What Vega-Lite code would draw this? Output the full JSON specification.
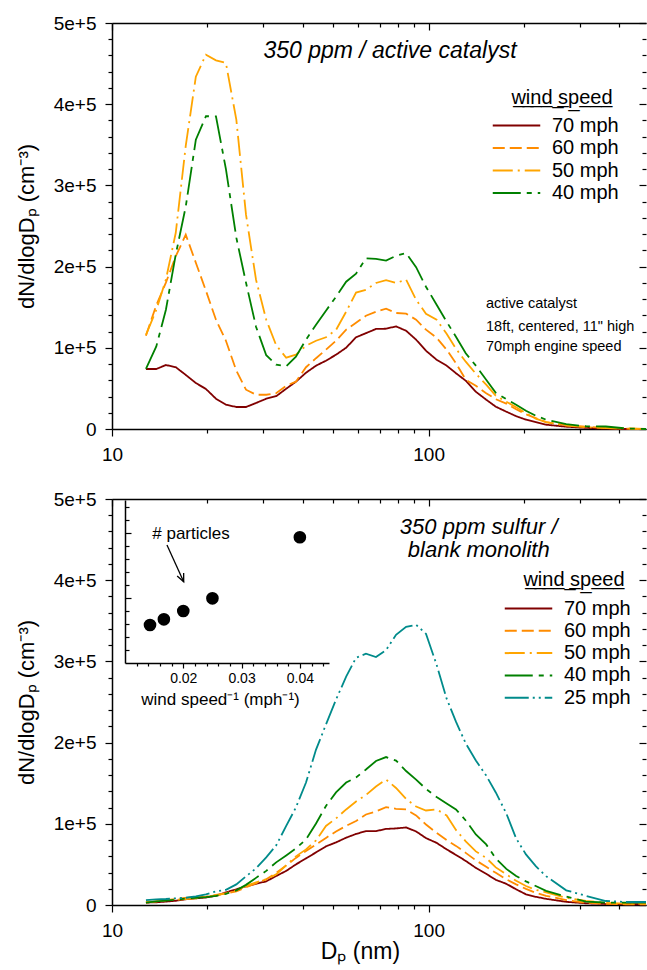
{
  "$schema": "https://vega.github.io/schema/vega-lite/v6.json",
  "padding": {"left": 15, "top": 14, "right": 0, "bottom": 5},
  "config": {
    "font": "Liberation Sans",
    "view": {"stroke": null},
    "axis": {"domainColor": "black", "domainWidth": 1.5, "tickColor": "black", "tickWidth": 1.2, "labelColor": "black", "titleColor": "black", "grid": false, "titleFontWeight": "normal", "labelFlush": false, "labelOverlap": false},
    "text": {"color": "black"}
  },
  "bounds": "flush",
  "spacing": 70,
  "resolve": {"scale": {"color": "independent", "strokeDash": "independent"}},
  "datasets": {
    "top": [
      {"Dp":12.8,"N":73900,"speed":"70 mph"},{"Dp":13.8,"N":73900,"speed":"70 mph"},{"Dp":14.8,"N":78800,"speed":"70 mph"},{"Dp":15.9,"N":76100,"speed":"70 mph"},{"Dp":17.1,"N":66600,"speed":"70 mph"},{"Dp":18.4,"N":56600,"speed":"70 mph"},{"Dp":19.8,"N":49300,"speed":"70 mph"},{"Dp":21.3,"N":37300,"speed":"70 mph"},{"Dp":22.9,"N":29900,"speed":"70 mph"},{"Dp":24.7,"N":27100,"speed":"70 mph"},{"Dp":26.5,"N":27100,"speed":"70 mph"},{"Dp":28.5,"N":32000,"speed":"70 mph"},{"Dp":30.7,"N":37300,"speed":"70 mph"},{"Dp":33.0,"N":40400,"speed":"70 mph"},{"Dp":35.5,"N":49600,"speed":"70 mph"},{"Dp":38.1,"N":58300,"speed":"70 mph"},{"Dp":41.0,"N":69300,"speed":"70 mph"},{"Dp":44.1,"N":78000,"speed":"70 mph"},{"Dp":47.4,"N":84100,"speed":"70 mph"},{"Dp":51.0,"N":91500,"speed":"70 mph"},{"Dp":54.9,"N":100100,"speed":"70 mph"},{"Dp":59.0,"N":113000,"speed":"70 mph"},{"Dp":63.4,"N":118000,"speed":"70 mph"},{"Dp":68.2,"N":123200,"speed":"70 mph"},{"Dp":73.4,"N":123500,"speed":"70 mph"},{"Dp":78.9,"N":126400,"speed":"70 mph"},{"Dp":84.9,"N":121000,"speed":"70 mph"},{"Dp":91.3,"N":110000,"speed":"70 mph"},{"Dp":98.1,"N":96400,"speed":"70 mph"},{"Dp":106,"N":85300,"speed":"70 mph"},{"Dp":114,"N":78000,"speed":"70 mph"},{"Dp":122,"N":68700,"speed":"70 mph"},{"Dp":131,"N":59500,"speed":"70 mph"},{"Dp":141,"N":45900,"speed":"70 mph"},{"Dp":152,"N":36100,"speed":"70 mph"},{"Dp":163,"N":27500,"speed":"70 mph"},{"Dp":176,"N":21300,"speed":"70 mph"},{"Dp":189,"N":15800,"speed":"70 mph"},{"Dp":203,"N":11500,"speed":"70 mph"},{"Dp":218,"N":8400,"speed":"70 mph"},{"Dp":235,"N":5300,"speed":"70 mph"},{"Dp":272,"N":2800,"speed":"70 mph"},{"Dp":314,"N":1400,"speed":"70 mph"},{"Dp":363,"N":400,"speed":"70 mph"},{"Dp":420,"N":0,"speed":"70 mph"},{"Dp":486,"N":0,"speed":"70 mph"},
      {"Dp":12.8,"N":114900,"speed":"60 mph"},{"Dp":13.8,"N":152500,"speed":"60 mph"},{"Dp":14.8,"N":180200,"speed":"60 mph"},{"Dp":15.9,"N":212800,"speed":"60 mph"},{"Dp":17.1,"N":239300,"speed":"60 mph"},{"Dp":18.4,"N":204800,"speed":"60 mph"},{"Dp":19.8,"N":170300,"speed":"60 mph"},{"Dp":21.3,"N":134600,"speed":"60 mph"},{"Dp":22.9,"N":108700,"speed":"60 mph"},{"Dp":24.7,"N":71800,"speed":"60 mph"},{"Dp":26.5,"N":48400,"speed":"60 mph"},{"Dp":28.5,"N":42200,"speed":"60 mph"},{"Dp":30.7,"N":42200,"speed":"60 mph"},{"Dp":33.0,"N":44100,"speed":"60 mph"},{"Dp":35.5,"N":53300,"speed":"60 mph"},{"Dp":38.1,"N":58300,"speed":"60 mph"},{"Dp":41.0,"N":76100,"speed":"60 mph"},{"Dp":44.1,"N":87200,"speed":"60 mph"},{"Dp":47.4,"N":97700,"speed":"60 mph"},{"Dp":51.0,"N":108700,"speed":"60 mph"},{"Dp":54.9,"N":122300,"speed":"60 mph"},{"Dp":59.0,"N":130900,"speed":"60 mph"},{"Dp":63.4,"N":139500,"speed":"60 mph"},{"Dp":68.2,"N":144400,"speed":"60 mph"},{"Dp":73.4,"N":148100,"speed":"60 mph"},{"Dp":78.9,"N":142900,"speed":"60 mph"},{"Dp":84.9,"N":142000,"speed":"60 mph"},{"Dp":91.3,"N":134600,"speed":"60 mph"},{"Dp":98.1,"N":122300,"speed":"60 mph"},{"Dp":106,"N":112400,"speed":"60 mph"},{"Dp":114,"N":97700,"speed":"60 mph"},{"Dp":122,"N":81000,"speed":"60 mph"},{"Dp":131,"N":60700,"speed":"60 mph"},{"Dp":141,"N":53300,"speed":"60 mph"},{"Dp":152,"N":44100,"speed":"60 mph"},{"Dp":163,"N":36700,"speed":"60 mph"},{"Dp":176,"N":31200,"speed":"60 mph"},{"Dp":189,"N":24400,"speed":"60 mph"},{"Dp":203,"N":18200,"speed":"60 mph"},{"Dp":218,"N":13300,"speed":"60 mph"},{"Dp":235,"N":8400,"speed":"60 mph"},{"Dp":272,"N":4700,"speed":"60 mph"},{"Dp":314,"N":2800,"speed":"60 mph"},{"Dp":363,"N":1200,"speed":"60 mph"},{"Dp":420,"N":400,"speed":"60 mph"},{"Dp":486,"N":0,"speed":"60 mph"},
      {"Dp":12.8,"N":116000,"speed":"50 mph"},{"Dp":13.8,"N":146700,"speed":"50 mph"},{"Dp":14.8,"N":184000,"speed":"50 mph"},{"Dp":15.9,"N":241700,"speed":"50 mph"},{"Dp":17.1,"N":348900,"speed":"50 mph"},{"Dp":18.4,"N":433900,"speed":"50 mph"},{"Dp":19.8,"N":461000,"speed":"50 mph"},{"Dp":21.3,"N":454000,"speed":"50 mph"},{"Dp":22.9,"N":450700,"speed":"50 mph"},{"Dp":24.7,"N":380900,"speed":"50 mph"},{"Dp":26.5,"N":264000,"speed":"50 mph"},{"Dp":28.5,"N":183900,"speed":"50 mph"},{"Dp":30.7,"N":134600,"speed":"50 mph"},{"Dp":33.0,"N":103200,"speed":"50 mph"},{"Dp":35.5,"N":87800,"speed":"50 mph"},{"Dp":38.1,"N":91500,"speed":"50 mph"},{"Dp":41.0,"N":102600,"speed":"50 mph"},{"Dp":44.1,"N":108700,"speed":"50 mph"},{"Dp":47.4,"N":113000,"speed":"50 mph"},{"Dp":51.0,"N":122000,"speed":"50 mph"},{"Dp":54.9,"N":144500,"speed":"50 mph"},{"Dp":59.0,"N":168000,"speed":"50 mph"},{"Dp":63.4,"N":171500,"speed":"50 mph"},{"Dp":68.2,"N":179800,"speed":"50 mph"},{"Dp":73.4,"N":183300,"speed":"50 mph"},{"Dp":78.9,"N":179800,"speed":"50 mph"},{"Dp":84.9,"N":183900,"speed":"50 mph"},{"Dp":91.3,"N":159200,"speed":"50 mph"},{"Dp":98.1,"N":142000,"speed":"50 mph"},{"Dp":106,"N":134600,"speed":"50 mph"},{"Dp":114,"N":117400,"speed":"50 mph"},{"Dp":122,"N":98900,"speed":"50 mph"},{"Dp":131,"N":82900,"speed":"50 mph"},{"Dp":141,"N":68100,"speed":"50 mph"},{"Dp":152,"N":54600,"speed":"50 mph"},{"Dp":163,"N":41000,"speed":"50 mph"},{"Dp":176,"N":33600,"speed":"50 mph"},{"Dp":189,"N":26800,"speed":"50 mph"},{"Dp":203,"N":19500,"speed":"50 mph"},{"Dp":218,"N":12700,"speed":"50 mph"},{"Dp":235,"N":8400,"speed":"50 mph"},{"Dp":272,"N":4100,"speed":"50 mph"},{"Dp":314,"N":2200,"speed":"50 mph"},{"Dp":363,"N":1200,"speed":"50 mph"},{"Dp":420,"N":700,"speed":"50 mph"},{"Dp":486,"N":0,"speed":"50 mph"},
      {"Dp":12.8,"N":73900,"speed":"40 mph"},{"Dp":13.8,"N":101700,"speed":"40 mph"},{"Dp":14.8,"N":146900,"speed":"40 mph"},{"Dp":15.9,"N":215000,"speed":"40 mph"},{"Dp":17.1,"N":274000,"speed":"40 mph"},{"Dp":18.4,"N":356300,"speed":"40 mph"},{"Dp":19.8,"N":385200,"speed":"40 mph"},{"Dp":21.3,"N":385000,"speed":"40 mph"},{"Dp":22.9,"N":320000,"speed":"40 mph"},{"Dp":24.7,"N":235600,"speed":"40 mph"},{"Dp":26.5,"N":180200,"speed":"40 mph"},{"Dp":28.5,"N":126000,"speed":"40 mph"},{"Dp":30.7,"N":90900,"speed":"40 mph"},{"Dp":33.0,"N":79200,"speed":"40 mph"},{"Dp":35.5,"N":77300,"speed":"40 mph"},{"Dp":38.1,"N":89000,"speed":"40 mph"},{"Dp":41.0,"N":110000,"speed":"40 mph"},{"Dp":44.1,"N":128400,"speed":"40 mph"},{"Dp":47.4,"N":145700,"speed":"40 mph"},{"Dp":51.0,"N":162900,"speed":"40 mph"},{"Dp":54.9,"N":181400,"speed":"40 mph"},{"Dp":59.0,"N":191300,"speed":"40 mph"},{"Dp":63.4,"N":210200,"speed":"40 mph"},{"Dp":68.2,"N":209400,"speed":"40 mph"},{"Dp":73.4,"N":207300,"speed":"40 mph"},{"Dp":78.9,"N":213400,"speed":"40 mph"},{"Dp":84.9,"N":216500,"speed":"40 mph"},{"Dp":91.3,"N":199300,"speed":"40 mph"},{"Dp":98.1,"N":175200,"speed":"40 mph"},{"Dp":106,"N":153100,"speed":"40 mph"},{"Dp":114,"N":132100,"speed":"40 mph"},{"Dp":122,"N":113700,"speed":"40 mph"},{"Dp":131,"N":93300,"speed":"40 mph"},{"Dp":141,"N":78000,"speed":"40 mph"},{"Dp":152,"N":60700,"speed":"40 mph"},{"Dp":163,"N":44700,"speed":"40 mph"},{"Dp":176,"N":36700,"speed":"40 mph"},{"Dp":189,"N":29900,"speed":"40 mph"},{"Dp":203,"N":22500,"speed":"40 mph"},{"Dp":218,"N":16400,"speed":"40 mph"},{"Dp":235,"N":11500,"speed":"40 mph"},{"Dp":272,"N":5900,"speed":"40 mph"},{"Dp":314,"N":3400,"speed":"40 mph"},{"Dp":363,"N":3100,"speed":"40 mph"},{"Dp":420,"N":700,"speed":"40 mph"},{"Dp":486,"N":0,"speed":"40 mph"}
    ],
    "bot": [
      {"Dp":12.8,"N":3000,"speed":"70 mph"},{"Dp":13.8,"N":3300,"speed":"70 mph"},{"Dp":14.8,"N":4200,"speed":"70 mph"},{"Dp":15.9,"N":5200,"speed":"70 mph"},{"Dp":17.1,"N":7000,"speed":"70 mph"},{"Dp":18.4,"N":8200,"speed":"70 mph"},{"Dp":19.8,"N":9200,"speed":"70 mph"},{"Dp":21.3,"N":11300,"speed":"70 mph"},{"Dp":22.9,"N":15600,"speed":"70 mph"},{"Dp":24.7,"N":19300,"speed":"70 mph"},{"Dp":26.5,"N":23000,"speed":"70 mph"},{"Dp":28.5,"N":26100,"speed":"70 mph"},{"Dp":30.7,"N":29100,"speed":"70 mph"},{"Dp":33.0,"N":35700,"speed":"70 mph"},{"Dp":35.5,"N":42000,"speed":"70 mph"},{"Dp":38.1,"N":50000,"speed":"70 mph"},{"Dp":41.0,"N":57400,"speed":"70 mph"},{"Dp":44.1,"N":64800,"speed":"70 mph"},{"Dp":47.4,"N":72200,"speed":"70 mph"},{"Dp":51.0,"N":77100,"speed":"70 mph"},{"Dp":54.9,"N":82900,"speed":"70 mph"},{"Dp":59.0,"N":87500,"speed":"70 mph"},{"Dp":63.4,"N":91000,"speed":"70 mph"},{"Dp":68.2,"N":91000,"speed":"70 mph"},{"Dp":73.4,"N":93700,"speed":"70 mph"},{"Dp":78.9,"N":94300,"speed":"70 mph"},{"Dp":84.9,"N":95500,"speed":"70 mph"},{"Dp":91.3,"N":90600,"speed":"70 mph"},{"Dp":98.1,"N":82400,"speed":"70 mph"},{"Dp":106,"N":76500,"speed":"70 mph"},{"Dp":114,"N":68500,"speed":"70 mph"},{"Dp":122,"N":61700,"speed":"70 mph"},{"Dp":131,"N":54300,"speed":"70 mph"},{"Dp":141,"N":45700,"speed":"70 mph"},{"Dp":152,"N":38400,"speed":"70 mph"},{"Dp":163,"N":31000,"speed":"70 mph"},{"Dp":176,"N":26100,"speed":"70 mph"},{"Dp":189,"N":19300,"speed":"70 mph"},{"Dp":203,"N":13200,"speed":"70 mph"},{"Dp":218,"N":10100,"speed":"70 mph"},{"Dp":235,"N":7600,"speed":"70 mph"},{"Dp":272,"N":3900,"speed":"70 mph"},{"Dp":314,"N":2100,"speed":"70 mph"},{"Dp":363,"N":1200,"speed":"70 mph"},{"Dp":420,"N":900,"speed":"70 mph"},{"Dp":486,"N":900,"speed":"70 mph"},
      {"Dp":12.8,"N":3000,"speed":"60 mph"},{"Dp":13.8,"N":4500,"speed":"60 mph"},{"Dp":14.8,"N":6000,"speed":"60 mph"},{"Dp":15.9,"N":7400,"speed":"60 mph"},{"Dp":17.1,"N":8900,"speed":"60 mph"},{"Dp":18.4,"N":9500,"speed":"60 mph"},{"Dp":19.8,"N":10300,"speed":"60 mph"},{"Dp":21.3,"N":12500,"speed":"60 mph"},{"Dp":22.9,"N":14400,"speed":"60 mph"},{"Dp":24.7,"N":16800,"speed":"60 mph"},{"Dp":26.5,"N":21800,"speed":"60 mph"},{"Dp":28.5,"N":26700,"speed":"60 mph"},{"Dp":30.7,"N":31600,"speed":"60 mph"},{"Dp":33.0,"N":39600,"speed":"60 mph"},{"Dp":35.5,"N":48800,"speed":"60 mph"},{"Dp":38.1,"N":58000,"speed":"60 mph"},{"Dp":41.0,"N":66600,"speed":"60 mph"},{"Dp":44.1,"N":74600,"speed":"60 mph"},{"Dp":47.4,"N":82600,"speed":"60 mph"},{"Dp":51.0,"N":90600,"speed":"60 mph"},{"Dp":54.9,"N":97400,"speed":"60 mph"},{"Dp":59.0,"N":103500,"speed":"60 mph"},{"Dp":63.4,"N":111500,"speed":"60 mph"},{"Dp":68.2,"N":115200,"speed":"60 mph"},{"Dp":73.4,"N":120400,"speed":"60 mph"},{"Dp":78.9,"N":118500,"speed":"60 mph"},{"Dp":84.9,"N":117700,"speed":"60 mph"},{"Dp":91.3,"N":110300,"speed":"60 mph"},{"Dp":98.1,"N":99200,"speed":"60 mph"},{"Dp":106,"N":88800,"speed":"60 mph"},{"Dp":114,"N":79900,"speed":"60 mph"},{"Dp":122,"N":72800,"speed":"60 mph"},{"Dp":131,"N":64200,"speed":"60 mph"},{"Dp":141,"N":55000,"speed":"60 mph"},{"Dp":152,"N":47000,"speed":"60 mph"},{"Dp":163,"N":39600,"speed":"60 mph"},{"Dp":176,"N":31600,"speed":"60 mph"},{"Dp":189,"N":25400,"speed":"60 mph"},{"Dp":203,"N":19900,"speed":"60 mph"},{"Dp":218,"N":15000,"speed":"60 mph"},{"Dp":235,"N":11300,"speed":"60 mph"},{"Dp":272,"N":6100,"speed":"60 mph"},{"Dp":314,"N":2700,"speed":"60 mph"},{"Dp":363,"N":1500,"speed":"60 mph"},{"Dp":420,"N":900,"speed":"60 mph"},{"Dp":486,"N":900,"speed":"60 mph"},
      {"Dp":12.8,"N":3900,"speed":"50 mph"},{"Dp":13.8,"N":4500,"speed":"50 mph"},{"Dp":14.8,"N":5800,"speed":"50 mph"},{"Dp":15.9,"N":6400,"speed":"50 mph"},{"Dp":17.1,"N":7300,"speed":"50 mph"},{"Dp":18.4,"N":8200,"speed":"50 mph"},{"Dp":19.8,"N":10100,"speed":"50 mph"},{"Dp":21.3,"N":11900,"speed":"50 mph"},{"Dp":22.9,"N":14400,"speed":"50 mph"},{"Dp":24.7,"N":18100,"speed":"50 mph"},{"Dp":26.5,"N":23600,"speed":"50 mph"},{"Dp":28.5,"N":27900,"speed":"50 mph"},{"Dp":30.7,"N":31600,"speed":"50 mph"},{"Dp":33.0,"N":37700,"speed":"50 mph"},{"Dp":35.5,"N":48800,"speed":"50 mph"},{"Dp":38.1,"N":59900,"speed":"50 mph"},{"Dp":41.0,"N":68500,"speed":"50 mph"},{"Dp":44.1,"N":79500,"speed":"50 mph"},{"Dp":47.4,"N":97400,"speed":"50 mph"},{"Dp":51.0,"N":106600,"speed":"50 mph"},{"Dp":54.9,"N":117700,"speed":"50 mph"},{"Dp":59.0,"N":127500,"speed":"50 mph"},{"Dp":63.4,"N":135500,"speed":"50 mph"},{"Dp":68.2,"N":145900,"speed":"50 mph"},{"Dp":73.4,"N":154500,"speed":"50 mph"},{"Dp":78.9,"N":144100,"speed":"50 mph"},{"Dp":84.9,"N":130600,"speed":"50 mph"},{"Dp":91.3,"N":121300,"speed":"50 mph"},{"Dp":98.1,"N":116400,"speed":"50 mph"},{"Dp":106,"N":117700,"speed":"50 mph"},{"Dp":114,"N":110300,"speed":"50 mph"},{"Dp":122,"N":92500,"speed":"50 mph"},{"Dp":131,"N":78300,"speed":"50 mph"},{"Dp":141,"N":66000,"speed":"50 mph"},{"Dp":152,"N":58000,"speed":"50 mph"},{"Dp":163,"N":46300,"speed":"50 mph"},{"Dp":176,"N":37700,"speed":"50 mph"},{"Dp":189,"N":29800,"speed":"50 mph"},{"Dp":203,"N":23400,"speed":"50 mph"},{"Dp":218,"N":18700,"speed":"50 mph"},{"Dp":235,"N":15600,"speed":"50 mph"},{"Dp":272,"N":8900,"speed":"50 mph"},{"Dp":314,"N":5200,"speed":"50 mph"},{"Dp":363,"N":2700,"speed":"50 mph"},{"Dp":420,"N":1700,"speed":"50 mph"},{"Dp":486,"N":1500,"speed":"50 mph"},
      {"Dp":12.8,"N":3000,"speed":"40 mph"},{"Dp":13.8,"N":4500,"speed":"40 mph"},{"Dp":14.8,"N":5400,"speed":"40 mph"},{"Dp":15.9,"N":6400,"speed":"40 mph"},{"Dp":17.1,"N":7900,"speed":"40 mph"},{"Dp":18.4,"N":8900,"speed":"40 mph"},{"Dp":19.8,"N":9800,"speed":"40 mph"},{"Dp":21.3,"N":11300,"speed":"40 mph"},{"Dp":22.9,"N":13800,"speed":"40 mph"},{"Dp":24.7,"N":18100,"speed":"40 mph"},{"Dp":26.5,"N":24800,"speed":"40 mph"},{"Dp":28.5,"N":33400,"speed":"40 mph"},{"Dp":30.7,"N":42000,"speed":"40 mph"},{"Dp":33.0,"N":52500,"speed":"40 mph"},{"Dp":35.5,"N":61100,"speed":"40 mph"},{"Dp":38.1,"N":69700,"speed":"40 mph"},{"Dp":41.0,"N":80800,"speed":"40 mph"},{"Dp":44.1,"N":100400,"speed":"40 mph"},{"Dp":47.4,"N":122000,"speed":"40 mph"},{"Dp":51.0,"N":138600,"speed":"40 mph"},{"Dp":54.9,"N":150800,"speed":"40 mph"},{"Dp":59.0,"N":157000,"speed":"40 mph"},{"Dp":63.4,"N":166800,"speed":"40 mph"},{"Dp":68.2,"N":177300,"speed":"40 mph"},{"Dp":73.4,"N":182200,"speed":"40 mph"},{"Dp":78.9,"N":177900,"speed":"40 mph"},{"Dp":84.9,"N":165000,"speed":"40 mph"},{"Dp":91.3,"N":154500,"speed":"40 mph"},{"Dp":98.1,"N":142900,"speed":"40 mph"},{"Dp":106,"N":133000,"speed":"40 mph"},{"Dp":114,"N":125000,"speed":"40 mph"},{"Dp":122,"N":117700,"speed":"40 mph"},{"Dp":131,"N":104100,"speed":"40 mph"},{"Dp":141,"N":86900,"speed":"40 mph"},{"Dp":152,"N":74600,"speed":"40 mph"},{"Dp":163,"N":57400,"speed":"40 mph"},{"Dp":176,"N":44500,"speed":"40 mph"},{"Dp":189,"N":35700,"speed":"40 mph"},{"Dp":203,"N":29100,"speed":"40 mph"},{"Dp":218,"N":23400,"speed":"40 mph"},{"Dp":235,"N":17500,"speed":"40 mph"},{"Dp":272,"N":10300,"speed":"40 mph"},{"Dp":314,"N":4200,"speed":"40 mph"},{"Dp":363,"N":3000,"speed":"40 mph"},{"Dp":420,"N":3000,"speed":"40 mph"},{"Dp":486,"N":3000,"speed":"40 mph"},
      {"Dp":12.8,"N":6100,"speed":"25 mph"},{"Dp":13.8,"N":7000,"speed":"25 mph"},{"Dp":14.8,"N":7400,"speed":"25 mph"},{"Dp":15.9,"N":8200,"speed":"25 mph"},{"Dp":17.1,"N":8900,"speed":"25 mph"},{"Dp":18.4,"N":10700,"speed":"25 mph"},{"Dp":19.8,"N":13200,"speed":"25 mph"},{"Dp":21.3,"N":16800,"speed":"25 mph"},{"Dp":22.9,"N":18700,"speed":"25 mph"},{"Dp":24.7,"N":25400,"speed":"25 mph"},{"Dp":26.5,"N":35300,"speed":"25 mph"},{"Dp":28.5,"N":45100,"speed":"25 mph"},{"Dp":30.7,"N":58600,"speed":"25 mph"},{"Dp":33.0,"N":73400,"speed":"25 mph"},{"Dp":35.5,"N":97400,"speed":"25 mph"},{"Dp":38.1,"N":120100,"speed":"25 mph"},{"Dp":41.0,"N":150800,"speed":"25 mph"},{"Dp":44.1,"N":191400,"speed":"25 mph"},{"Dp":47.4,"N":222200,"speed":"25 mph"},{"Dp":51.0,"N":252900,"speed":"25 mph"},{"Dp":54.9,"N":281200,"speed":"25 mph"},{"Dp":59.0,"N":304500,"speed":"25 mph"},{"Dp":63.4,"N":309400,"speed":"25 mph"},{"Dp":68.2,"N":305400,"speed":"25 mph"},{"Dp":73.4,"N":314000,"speed":"25 mph"},{"Dp":78.9,"N":332800,"speed":"25 mph"},{"Dp":84.9,"N":342600,"speed":"25 mph"},{"Dp":91.3,"N":345100,"speed":"25 mph"},{"Dp":98.1,"N":334000,"speed":"25 mph"},{"Dp":106,"N":295900,"speed":"25 mph"},{"Dp":114,"N":254100,"speed":"25 mph"},{"Dp":122,"N":225800,"speed":"25 mph"},{"Dp":131,"N":199000,"speed":"25 mph"},{"Dp":141,"N":178000,"speed":"25 mph"},{"Dp":152,"N":159500,"speed":"25 mph"},{"Dp":163,"N":138600,"speed":"25 mph"},{"Dp":176,"N":112700,"speed":"25 mph"},{"Dp":189,"N":82000,"speed":"25 mph"},{"Dp":203,"N":62300,"speed":"25 mph"},{"Dp":218,"N":47800,"speed":"25 mph"},{"Dp":235,"N":35500,"speed":"25 mph"},{"Dp":272,"N":18100,"speed":"25 mph"},{"Dp":314,"N":11300,"speed":"25 mph"},{"Dp":363,"N":4900,"speed":"25 mph"},{"Dp":420,"N":3700,"speed":"25 mph"},{"Dp":486,"N":3700,"speed":"25 mph"}
    ],
    "inset": [
      {"inv": 0.01429, "total": 0.583},
      {"inv": 0.01667, "total": 0.67},
      {"inv": 0.02, "total": 0.798},
      {"inv": 0.025, "total": 0.992},
      {"inv": 0.04, "total": 1.928}
    ]
  },
  "vconcat": [
    {
      "width": 534,
      "height": 406,
      "resolve": {"scale": {"x": "independent", "y": "independent"}},
      "layer": [
        {
          "data": {"name": "top"},
          "mark": {"type": "line", "strokeWidth": 1.8},
          "encoding": {
            "x": {"field": "Dp", "type": "quantitative", "scale": {"type": "log", "domain": [10, 486], "nice": false},
              "axis": {"orient": "bottom", "title": null, "values": [10,20,30,40,50,60,70,80,90,100,200,300,400], "labelExpr": "datum.value == 10 || datum.value == 100 ? '' + datum.value : ''", "tickSize": {"condition": {"test": "datum.value == 10 || datum.value == 100", "value": 7}, "value": 4}, "labelFontSize": 19, "labelPadding": 9}},
            "y": {"field": "N", "type": "quantitative", "scale": {"domain": [0, 500000], "nice": false},
              "axis": {"orient": "left", "title": "dN/dlogD\u209a (cm\u207b\u00b3)", "titleFontSize": 22, "titlePadding": 15, "values": [0,20000,40000,60000,80000,100000,120000,140000,160000,180000,200000,220000,240000,260000,280000,300000,320000,340000,360000,380000,400000,420000,440000,460000,480000,500000], "labelExpr": "datum.value % 100000 == 0 ? (datum.value == 0 ? '0' : (datum.value / 100000) + 'e+5') : ''", "tickSize": {"condition": {"test": "datum.value % 100000 == 0", "value": 7}, "value": 4}, "labelFontSize": 19, "labelPadding": 9}},
            "color": {"field": "speed", "type": "nominal", "scale": {"domain": ["70 mph","60 mph","50 mph","40 mph"], "range": ["#800000","#FF8C00","#FFA500","#008000"]},
              "legend": {"title": "w\u0332i\u0332n\u0332d\u0332 \u0332s\u0332p\u0332e\u0332e\u0332d\u0332", "orient": "none", "legendX": 394, "legendY": 65, "titleFontSize": 20, "titleFontWeight": "normal", "titleAnchor": "middle", "titlePadding": 7, "labelFontSize": 20, "symbolType": "M-2.5,0H2.5", "symbolSize": 361, "symbolStrokeWidth": 2, "rowPadding": 1.5, "labelOffset": 25, "padding": 0}},
            "strokeDash": {"field": "speed", "type": "nominal", "scale": {"domain": ["70 mph","60 mph","50 mph","40 mph"], "range": [[1,0],[12,5],[20,5,2,5],[28,6,5,6]]},
              "legend": {"title": "w\u0332i\u0332n\u0332d\u0332 \u0332s\u0332p\u0332e\u0332e\u0332d\u0332", "orient": "none", "legendX": 394, "legendY": 65, "titleFontSize": 20, "titleFontWeight": "normal", "titleAnchor": "middle", "titlePadding": 7, "labelFontSize": 20, "symbolType": "M-2.5,0H2.5", "symbolSize": 361, "symbolStrokeWidth": 2, "rowPadding": 1.5, "labelOffset": 25, "padding": 0}}
          }
        },
        {
          "data": {"name": "top"},
          "mark": {"type": "point", "opacity": 0},
          "encoding": {
            "x": {"field": "Dp", "type": "quantitative", "scale": {"type": "log", "domain": [10, 486], "nice": false},
              "axis": {"orient": "top", "title": null, "labels": false, "values": [10,20,30,40,50,60,70,80,90,100,200,300,400], "tickSize": {"condition": {"test": "datum.value == 10 || datum.value == 100", "value": -7}, "value": -4}}},
            "y": {"field": "N", "type": "quantitative", "scale": {"domain": [0, 500000], "nice": false},
              "axis": {"orient": "right", "title": null, "labels": false, "domain": false, "values": [0,20000,40000,60000,80000,100000,120000,140000,160000,180000,200000,220000,240000,260000,280000,300000,320000,340000,360000,380000,400000,420000,440000,460000,480000,500000], "tickSize": {"condition": {"test": "datum.value % 100000 == 0", "value": -7}, "value": -4}}}
          }
        },
        {
          "data": {"values": [{"Dp": 75.5, "N": 465000, "label": "350 ppm / active catalyst"}]},
          "mark": {"type": "text", "fontSize": 23, "fontStyle": "italic", "align": "center", "baseline": "middle"},
          "encoding": {
            "x": {"field": "Dp", "type": "quantitative", "scale": {"type": "log", "domain": [10, 486], "nice": false}, "axis": null},
            "y": {"field": "N", "type": "quantitative", "scale": {"domain": [0, 500000], "nice": false}, "axis": null},
            "text": {"field": "label"}
          }
        },
        {
          "data": {"values": [{"Dp": 151.8, "N": 154300, "label": "active catalyst"}, {"Dp": 151.8, "N": 126000, "label": "18ft, centered, 11\" high"}, {"Dp": 151.8, "N": 101400, "label": "70mph engine speed"}]},
          "mark": {"type": "text", "fontSize": 14.5, "align": "left", "baseline": "middle"},
          "encoding": {
            "x": {"field": "Dp", "type": "quantitative", "scale": {"type": "log", "domain": [10, 486], "nice": false}, "axis": null},
            "y": {"field": "N", "type": "quantitative", "scale": {"domain": [0, 500000], "nice": false}, "axis": null},
            "text": {"field": "label"}
          }
        }
      ]
    },
    {
      "width": 534,
      "height": 406,
      "resolve": {"scale": {"x": "independent", "y": "independent"}},
      "layer": [
        {
          "data": {"name": "bot"},
          "mark": {"type": "line", "strokeWidth": 1.8},
          "encoding": {
            "x": {"field": "Dp", "type": "quantitative", "scale": {"type": "log", "domain": [10, 486], "nice": false},
              "axis": {"orient": "bottom", "title": "D\u209a (nm)", "titleFontSize": 23, "titlePadding": 0, "titleX": 248, "values": [10,20,30,40,50,60,70,80,90,100,200,300,400], "labelExpr": "datum.value == 10 || datum.value == 100 ? '' + datum.value : ''", "tickSize": {"condition": {"test": "datum.value == 10 || datum.value == 100", "value": 7}, "value": 4}, "labelFontSize": 19, "labelPadding": 9}},
            "y": {"field": "N", "type": "quantitative", "scale": {"domain": [0, 500000], "nice": false},
              "axis": {"orient": "left", "title": "dN/dlogD\u209a (cm\u207b\u00b3)", "titleFontSize": 22, "titlePadding": 15, "values": [0,20000,40000,60000,80000,100000,120000,140000,160000,180000,200000,220000,240000,260000,280000,300000,320000,340000,360000,380000,400000,420000,440000,460000,480000,500000], "labelExpr": "datum.value % 100000 == 0 ? (datum.value == 0 ? '0' : (datum.value / 100000) + 'e+5') : ''", "tickSize": {"condition": {"test": "datum.value % 100000 == 0", "value": 7}, "value": 4}, "labelFontSize": 19, "labelPadding": 9}},
            "color": {"field": "speed", "type": "nominal", "scale": {"domain": ["70 mph","60 mph","50 mph","40 mph","25 mph"], "range": ["#800000","#FF8C00","#FFA500","#008000","#008B8B"]},
              "legend": {"title": "w\u0332i\u0332n\u0332d\u0332 \u0332s\u0332p\u0332e\u0332e\u0332d\u0332", "orient": "none", "legendX": 406, "legendY": 71, "titleFontSize": 20, "titleFontWeight": "normal", "titleAnchor": "middle", "titlePadding": 8, "labelFontSize": 20, "symbolType": "M-2.5,0H2.5", "symbolSize": 361, "symbolStrokeWidth": 2, "rowPadding": 1.3, "labelOffset": 25, "padding": 0}},
            "strokeDash": {"field": "speed", "type": "nominal", "scale": {"domain": ["70 mph","60 mph","50 mph","40 mph","25 mph"], "range": [[1,0],[12,5],[20,5,2,5],[28,6,5,6],[24,4,2,4,2,4]]},
              "legend": {"title": "w\u0332i\u0332n\u0332d\u0332 \u0332s\u0332p\u0332e\u0332e\u0332d\u0332", "orient": "none", "legendX": 406, "legendY": 71, "titleFontSize": 20, "titleFontWeight": "normal", "titleAnchor": "middle", "titlePadding": 8, "labelFontSize": 20, "symbolType": "M-2.5,0H2.5", "symbolSize": 361, "symbolStrokeWidth": 2, "rowPadding": 1.3, "labelOffset": 25, "padding": 0}}
          }
        },
        {
          "data": {"name": "bot"},
          "mark": {"type": "point", "opacity": 0},
          "encoding": {
            "x": {"field": "Dp", "type": "quantitative", "scale": {"type": "log", "domain": [10, 486], "nice": false},
              "axis": {"orient": "top", "title": null, "labels": false, "values": [10,20,30,40,50,60,70,80,90,100,200,300,400], "tickSize": {"condition": {"test": "datum.value == 10 || datum.value == 100", "value": -7}, "value": -4}}},
            "y": {"field": "N", "type": "quantitative", "scale": {"domain": [0, 500000], "nice": false},
              "axis": {"orient": "right", "title": null, "labels": false, "domain": false, "values": [0,20000,40000,60000,80000,100000,120000,140000,160000,180000,200000,220000,240000,260000,280000,300000,320000,340000,360000,380000,400000,420000,440000,460000,480000,500000], "tickSize": {"condition": {"test": "datum.value % 100000 == 0", "value": -7}, "value": -4}}}
          }
        },
        {
          "data": {"values": [{"Dp": 144, "N": 465000, "label": "350 ppm sulfur /\nblank monolith"}]},
          "mark": {"type": "text", "fontSize": 22, "fontStyle": "italic", "align": "center", "baseline": "middle", "lineBreak": "\n", "lineHeight": 23},
          "encoding": {
            "x": {"field": "Dp", "type": "quantitative", "scale": {"type": "log", "domain": [10, 486], "nice": false}, "axis": null},
            "y": {"field": "N", "type": "quantitative", "scale": {"domain": [0, 500000], "nice": false}, "axis": null},
            "text": {"field": "label"}
          }
        },
        {
          "data": {"name": "inset"},
          "mark": {"type": "circle", "size": 160, "color": "black", "opacity": 1},
          "encoding": {
            "x": {"field": "inv", "type": "quantitative", "scale": {"domain": [0.01, 0.045], "range": [13, 217], "nice": false, "zero": false},
              "axis": {"orient": "bottom", "offset": -242, "title": "wind speed\u207b\u00b9 (mph\u207b\u00b9)", "titleFontSize": 17, "titlePadding": 6, "titleX": 108, "values": [0.012,0.014,0.016,0.018,0.02,0.022,0.024,0.026,0.028,0.03,0.032,0.034,0.036,0.038,0.04,0.042,0.044], "labelExpr": "abs(datum.value * 100 - round(datum.value * 100)) < 0.000001 ? format(datum.value, '.2f') : ''", "tickSize": {"condition": {"test": "abs(datum.value * 100 - round(datum.value * 100)) < 0.000001", "value": 5}, "value": 3}, "labelFontSize": 14, "labelPadding": 3}},
            "y": {"field": "total", "type": "quantitative", "scale": {"domain": [0, 2.5], "range": [164, 1], "nice": false},
              "axis": {"orient": "left", "offset": -13, "title": null, "labels": false, "values": [0.2,0.4,0.6,0.8,1,1.2,1.4,1.6,1.8,2,2.2,2.4], "tickSize": {"condition": {"test": "datum.value == 1 || datum.value == 2", "value": -6}, "value": -4}}}
          }
        },
        {
          "data": {"values": [{"inv": 0.0172, "total": 1.81, "inv2": 0.02007, "total2": 1.247}]},
          "mark": {"type": "rule", "color": "black", "strokeWidth": 1.3},
          "encoding": {
            "x": {"field": "inv", "type": "quantitative", "scale": {"domain": [0.01, 0.045], "range": [13, 217], "nice": false, "zero": false}, "axis": null},
            "y": {"field": "total", "type": "quantitative", "scale": {"domain": [0, 2.5], "range": [164, 1], "nice": false}, "axis": null},
            "x2": {"field": "inv2"},
            "y2": {"field": "total2"}
          }
        },
        {
          "data": {"values": [{"inv": 0.02007, "total": 1.247}]},
          "mark": {"type": "point", "shape": "M-0.45,-1L0,0L0.45,-1", "filled": false, "size": 250, "angle": -24.5, "color": "black", "strokeWidth": 1.3, "opacity": 1},
          "encoding": {
            "x": {"field": "inv", "type": "quantitative", "scale": {"domain": [0.01, 0.045], "range": [13, 217], "nice": false, "zero": false}, "axis": null},
            "y": {"field": "total", "type": "quantitative", "scale": {"domain": [0, 2.5], "range": [164, 1], "nice": false}, "axis": null}
          }
        },
        {
          "data": {"values": [{"inv": 0.02132, "total": 1.98, "label": "# particles"}]},
          "mark": {"type": "text", "fontSize": 17, "align": "center", "baseline": "middle"},
          "encoding": {
            "x": {"field": "inv", "type": "quantitative", "scale": {"domain": [0.01, 0.045], "range": [13, 217], "nice": false, "zero": false}, "axis": null},
            "y": {"field": "total", "type": "quantitative", "scale": {"domain": [0, 2.5], "range": [164, 1], "nice": false}, "axis": null},
            "text": {"field": "label"}
          }
        }
      ]
    }
  ]
}
